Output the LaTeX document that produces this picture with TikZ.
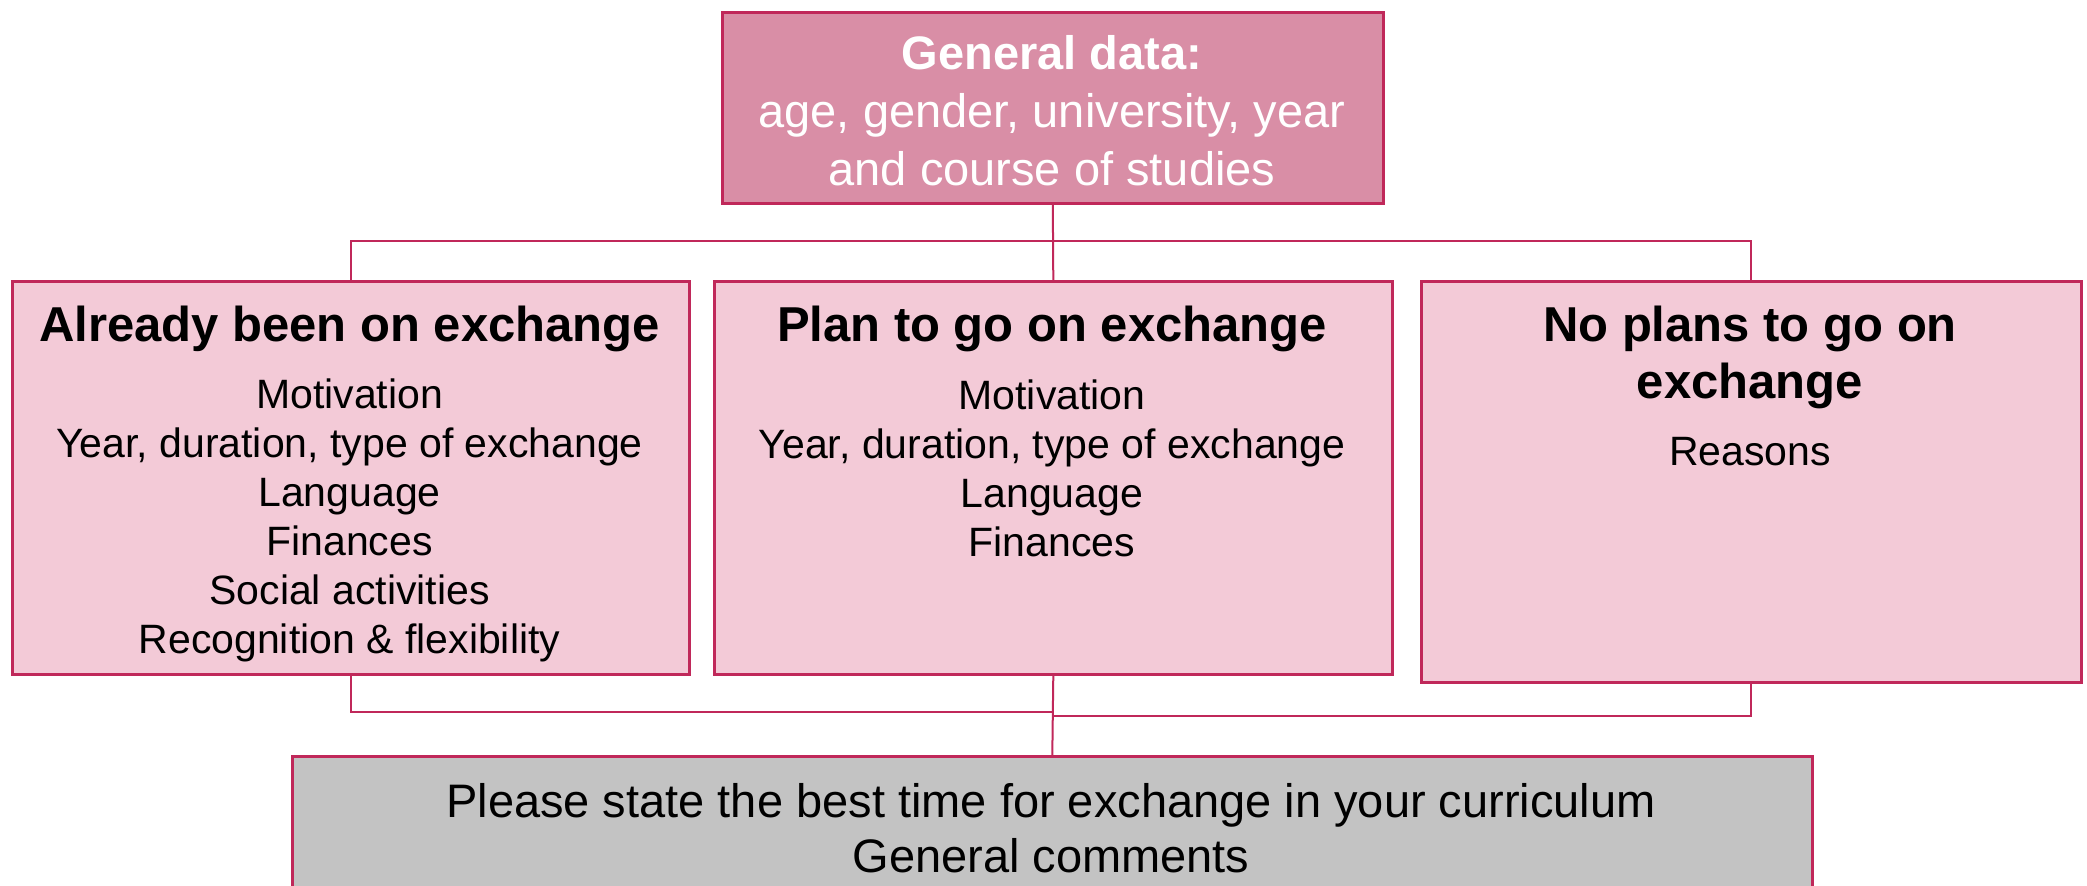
\documentclass[tikz,border=0pt]{standalone}
\usepackage{fontspec}
\setmainfont{Liberation Sans}
\usetikzlibrary{positioning}
\definecolor{wine}{HTML}{C0285A}
\definecolor{rosefill}{HTML}{D98EA6}
\definecolor{palerose}{HTML}{F3CAD7}
\definecolor{greyfill}{HTML}{C3C3C3}

\begin{document}
\begin{tikzpicture}[x=0.5pt, y=-0.5pt,
  frame/.style={draw=wine, line width=1.3pt, inner sep=0pt, anchor=north west},
  genbox/.style={frame, fill=rosefill, minimum width=330.5pt, minimum height=95.5pt},
  groupbox/.style={frame, fill=palerose, minimum height=196.5pt},
  endbox/.style={frame, fill=greyfill, minimum width=760pt, minimum height=110pt},
  head/.style={align=center, inner sep=0pt, font=\fontsize{24.5}{28.5}\selectfont\bfseries},
  items/.style={align=center, inner sep=0pt, font=\fontsize{20.5}{24.5}\selectfont},
  wire/.style={draw=wine, line width=1pt}]
\useasboundingbox (0,0) rectangle (2087,885);
\clip (0,0) rectangle (2087,885);
%
\node[genbox]                       (gen)     at (721,11)   {};
\node[groupbox, minimum width=338.5pt] (already) at (11,280)  {};
\node[groupbox, minimum width=339pt]   (plan)    at (713,280) {};
\node[groupbox, minimum width=330pt, minimum height=200.5pt] (noplans) at (1420,280) {};
\node[endbox]                       (final)   at (291,755)  {};
%
\node[align=center, inner sep=0pt, text=white,
      font=\fontsize{23.5}{29}\selectfont] (gentext) at (1052,111)
  {\textbf{General data:}\\age, gender, university, year\\and course of studies};
%
\node[head]  (alreadyhead) at (349.5,329) {Already been on exchange};
\node[items] (alreadylist) at (349.5,520.5)
  {Motivation\\Year, duration, type of exchange\\Language\\Finances\\Social activities\\Recognition \& flexibility};
%
\node[head]  (planhead) at (1052,329) {Plan to go on exchange};
\node[items] (planlist) at (1052,468)
  {Motivation\\Year, duration, type of exchange\\Language\\Finances};
%
\node[head]  (noplanshead) at (1750,357.5) {No plans to go on\\exchange};
\node[items] (noplanslist) at (1750,452) {Reasons};
%
\node[items, font=\fontsize{23.5}{27.5}\selectfont] (finaltext) at (1051,828)
  {Please state the best time for exchange in your curriculum\\General comments};
%
\coordinate (bus)   at (1052,241);
\coordinate (joinL) at (1052,712);
\coordinate (joinR) at (1052,716);
%
\path[wire]
  (gen.south) edge (plan.north)
  (plan.south) edge (final.north);
\draw[wire] (already.north) |- (bus) -| (noplans.north);
\draw[wire] (already.south) |- (joinL);
\draw[wire] (noplans.south) |- (joinR);
\end{tikzpicture}
\end{document}
